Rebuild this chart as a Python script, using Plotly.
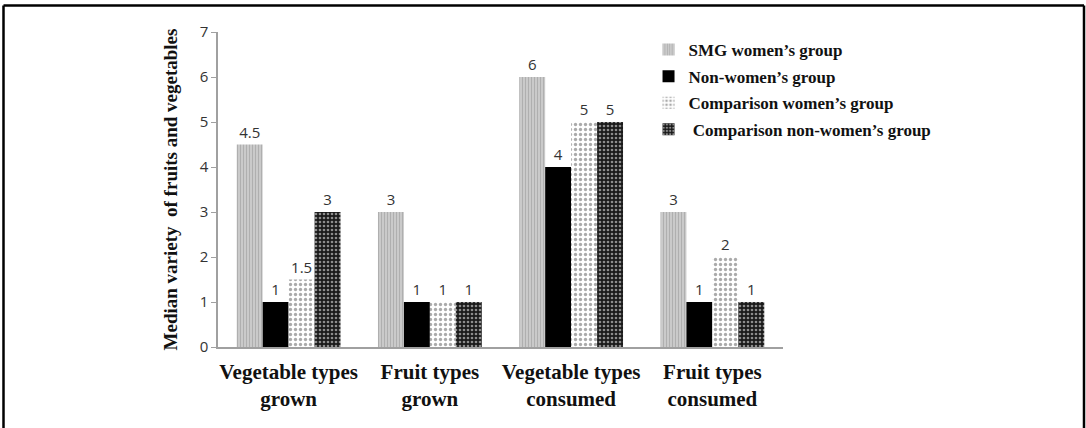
import plotly.graph_objects as go

categories = ["Vegetable types<br>grown", "Fruit types<br>grown",
              "Vegetable types<br>consumed", "Fruit types<br>consumed"]
series_names = ["SMG women\u2019s group", "Non-women\u2019s group",
                "Comparison women\u2019s group", " Comparison non-women\u2019s group"]
smg_women = [4.5, 3, 6, 3]
non_women = [1, 1, 4, 1]
comparison_women = [1.5, 1, 5, 2]
comparison_non_women = [3, 1, 5, 1]
y_ticks = [0, 1, 2, 3, 4, 5, 6, 7]

values = [smg_women, non_women, comparison_women, comparison_non_women]
patterns = [
    dict(shape="|", fgcolor="#8a8a8a", bgcolor="#d4d4d4", size=3, solidity=0.5),
    None,
    dict(shape=".", fgcolor="#555555", bgcolor="#ffffff", size=5, solidity=0.35),
    dict(shape=".", fgcolor="#ffffff", bgcolor="#1a1a1a", size=4, solidity=0.35),
]
colors = ["#b0b0b0", "#000000", "#ffffff", "#1a1a1a"]

fig = go.Figure()
for i, (name, vals) in enumerate(zip(series_names, values)):
    marker = dict(color=colors[i], line=dict(width=0))
    if patterns[i] is not None:
        marker["pattern"] = patterns[i]
    fig.add_trace(go.Bar(
        x=categories, y=vals, name=name, marker=marker,
        text=[f"{v:g}" for v in vals], textposition="outside",
        textfont=dict(family="Open Sans, DejaVu Sans", size=15, color="#333333"),
        cliponaxis=False, legendgroup=str(i),
    ))

serif_bold = dict(family="Liberation Serif", color="#111111", weight="bold")
W = 565.0
H = 315.0
border = dict(color="black", width=2.5)
bottom = (347 - 428) / H

fig.update_layout(
    width=1086, height=428,
    margin=dict(l=218, r=303, t=32, b=81),
    paper_bgcolor="white", plot_bgcolor="white",
    barmode="group", bargap=0.265, bargroupgap=0,
    showlegend=True,
    legend=dict(x=0.762, y=1.0, xanchor="left", yanchor="top",
                font=dict(size=17, **serif_bold),
                bgcolor="rgba(0,0,0,0)", tracegroupgap=1.5, traceorder="grouped",
                itemwidth=30),
    xaxis=dict(showline=True, linecolor="#a0a0a0", linewidth=1.5, ticks="",
               tickfont=dict(size=21, **serif_bold), ticklabelstandoff=5,
               showgrid=False),
    yaxis=dict(range=[0, 7], tickvals=y_ticks, showline=True, linecolor="#a0a0a0",
               linewidth=1.5, ticks="outside", ticklen=5, tickcolor="#a0a0a0",
               tickfont=dict(family="Open Sans, DejaVu Sans", size=15, color="#333333"),
               showgrid=False, zeroline=False,
               title=dict(text="Median variety  of fruits and vegetables",
                          font=dict(size=19, **serif_bold),
                          standoff=17)),
    shapes=[
        dict(type="line", xref="paper", yref="paper",
             x0=-214.5 / W, x1=-214.5 / W, y0=bottom, y1=(347 - 5.5) / H, line=border),
        dict(type="line", xref="paper", yref="paper",
             x0=-214.5 / W, x1=(1084 - 218) / W, y0=(347 - 5.5) / H, y1=(347 - 5.5) / H, line=border),
        dict(type="line", xref="paper", yref="paper",
             x0=(1084 - 218) / W, x1=(1084 - 218) / W, y0=bottom, y1=(347 - 5.5) / H, line=border),
    ],
)

fig.write_html("out.html", config={"displayModeBar": False},
               post_script="document.body.style.margin='0px';")
